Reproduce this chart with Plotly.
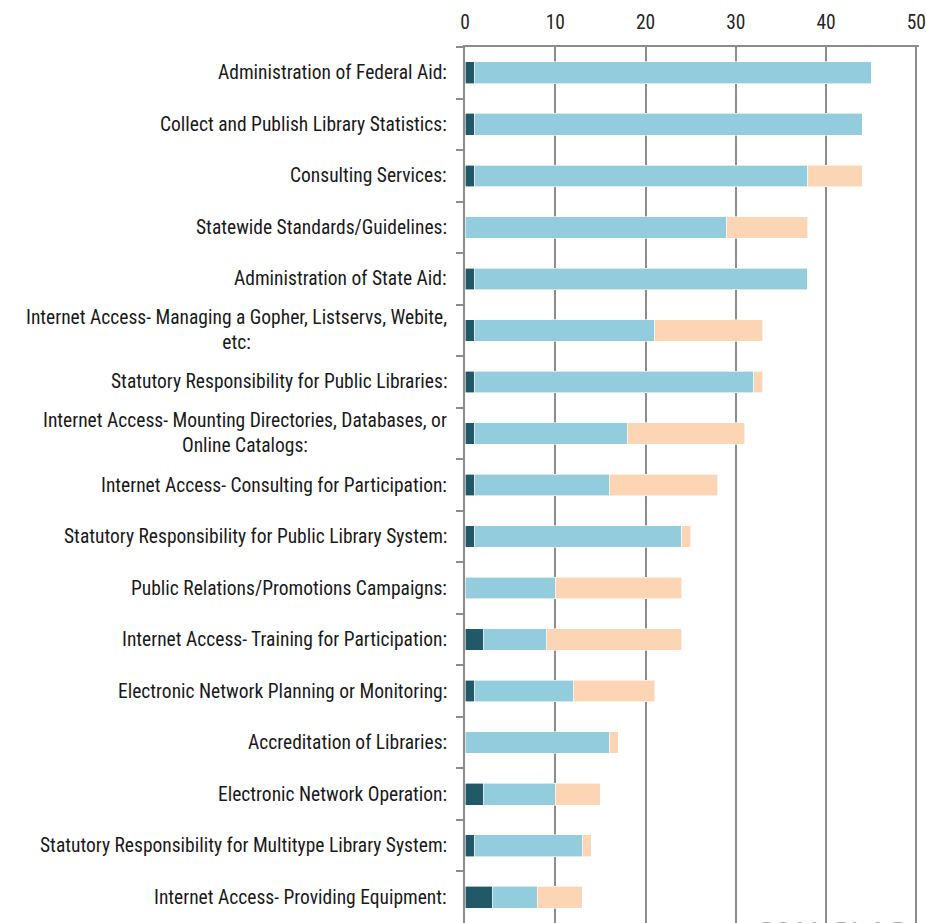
import plotly.graph_objects as go

# Categories, top to bottom as shown
categories = [
    "Administration of Federal Aid:",
    "Collect and Publish Library Statistics:",
    "Consulting Services:",
    "Statewide Standards/Guidelines:",
    "Administration of State Aid:",
    "Internet Access- Managing a Gopher, Listservs, Webite,<br>etc:",
    "Statutory Responsibility for Public Libraries:",
    "Internet Access- Mounting Directories, Databases, or<br>Online Catalogs:",
    "Internet Access- Consulting for Participation:",
    "Statutory Responsibility for Public Library System:",
    "Public Relations/Promotions Campaigns:",
    "Internet Access- Training for Participation:",
    "Electronic Network Planning or Monitoring:",
    "Accreditation of Libraries:",
    "Electronic Network Operation:",
    "Statutory Responsibility for Multitype Library System:",
    "Internet Access- Providing Equipment:",
]

dark_vals = [1, 1, 1, 0, 1, 1, 1, 1, 1, 1, 0, 2, 1, 0, 2, 1, 3]
blue_vals = [44, 43, 37, 29, 37, 20, 31, 17, 15, 23, 10, 7, 11, 16, 8, 12, 5]
peach_vals = [0, 0, 6, 9, 0, 12, 1, 13, 12, 1, 14, 15, 9, 1, 5, 1, 5]

x_ticks = [0, 10, 20, 30, 40, 50]

FONT = "Roboto Condensed, Liberation Sans Narrow, Arial Narrow, sans-serif"
GRID = "#8c8c8c"

fig = go.Figure()
for vals, color in [(dark_vals, "#215968"), (blue_vals, "#93CDDD"), (peach_vals, "#FCD5B5")]:
    fig.add_trace(go.Bar(
        y=categories,
        x=vals,
        orientation="h",
        marker=dict(color=color, line=dict(color="white", width=0.6)),
        showlegend=False,
    ))

# category labels as annotations so wrapped lines stay centred
for cat in categories:
    fig.add_annotation(
        x=0, xref="paper", y=cat, yref="y",
        text=cat, showarrow=False,
        xanchor="right", align="center", xshift=-16,
        font=dict(family=FONT, size=19.5, color="#1a1a1a"),
    )

fig.add_annotation(
    x=0.64, xref="paper", y=0, yref="paper",
    text="2011 SLAS", showarrow=False,
    xanchor="left", yanchor="top", yshift=10,
    font=dict(family="Liberation Sans, sans-serif", size=30, color="#a6a6a6"),
)

# range a bit past 50 so plotly keeps the gridline at 50
fig.update_layout(
    barmode="stack",
    bargap=0.58,
    width=926,
    height=923,
    margin=dict(l=465, r=7, t=47, b=0),
    plot_bgcolor="white",
    paper_bgcolor="white",
    font=dict(family=FONT, size=19.5, color="#1a1a1a"),
    xaxis=dict(
        side="top",
        range=[0, 50.3],
        tickvals=x_ticks,
        showgrid=True,
        gridcolor=GRID,
        gridwidth=2,
        zeroline=False,
        showline=True,
        linecolor=GRID,
        linewidth=2,
        ticks="",
        ticklabelstandoff=8,
        ticklabeloverflow="allow",
        tickfont=dict(family=FONT, size=19.5, color="#262626"),
    ),
    yaxis=dict(
        autorange="reversed",
        type="category",
        showticklabels=False,
        tickson="boundaries",
        ticks="outside",
        ticklen=7,
        tickwidth=2,
        tickcolor=GRID,
        showline=True,
        linecolor=GRID,
        linewidth=2,
        showgrid=False,
    ),
)

# drop the default body margin so the page fits the window without scrollbars
fig.write_html(
    "out.html",
    config={"displayModeBar": False},
    post_script="document.body.style.margin='0';document.body.style.overflow='hidden';",
)
